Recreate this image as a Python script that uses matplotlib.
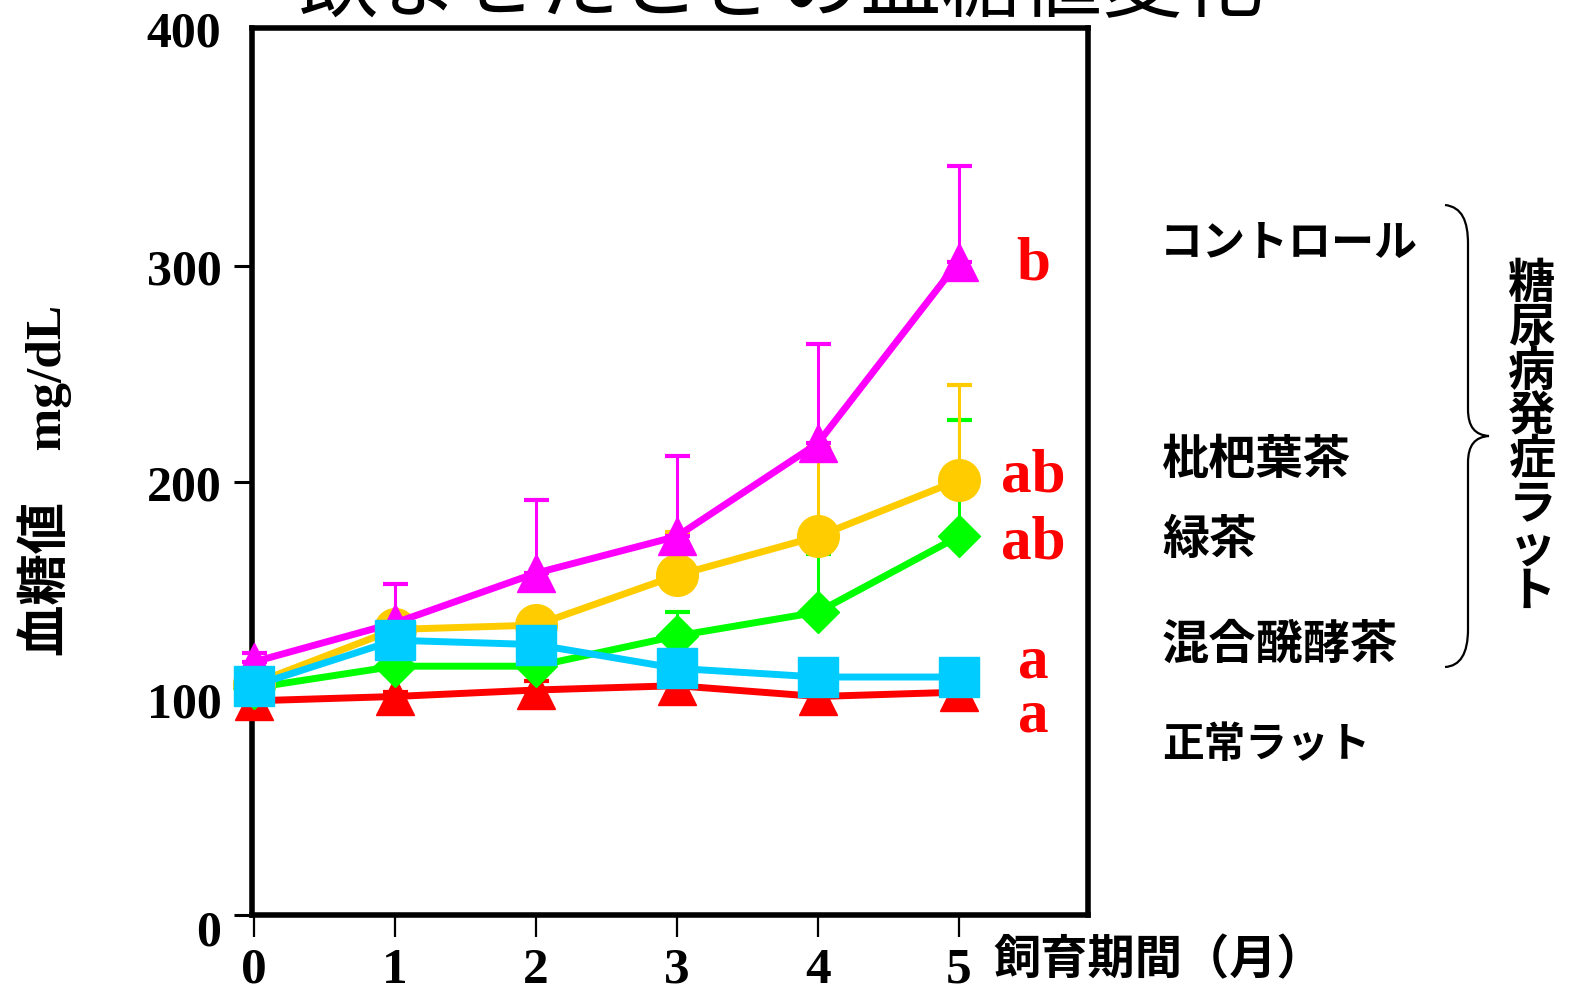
import matplotlib
matplotlib.use("Agg")
import matplotlib.pyplot as plt
from matplotlib.path import Path
from matplotlib.patches import PathPatch
from matplotlib.transforms import ScaledTranslation
import numpy as np

# ---- data ---------------------------------------------------------------
months = [0, 1, 2, 3, 4, 5]
month_labels = ["0", "1", "2", "3", "4", "5"]

control = [117, 135, 158, 175, 218, 302]
control_err = [4, 18, 34, 37, 46, 44]
loquat = [107, 132, 134, 157, 175, 201]
loquat_err = [3, 3, 3, 20, 41, 44]
green_tea = [105, 115, 115, 129, 140, 175]
green_tea_err = [2, 3, 3, 11, 27, 54]
fermented = [106, 127, 125, 114, 110, 110]
fermented_err = [3, 4, 4, 3, 3, 3]
normal = [99, 101, 104, 106, 101, 103]
normal_err = [2, 2, 4, 2, 2, 2]

group_names = ["コントロール", "枇杷葉茶", "緑茶", "混合醗酵茶", "正常ラット"]
sig_letters = ["b", "ab", "ab", "a", "a"]
y_ticks = [0, 100, 200, 300, 400]

# ---- figure -------------------------------------------------------------
W, H, DPI = 1573, 995, 100
plt.rcParams['font.family'] = ['Liberation Serif', 'Noto Sans CJK JP']
plt.rcParams['font.weight'] = 'bold'

fig = plt.figure(figsize=(W / DPI, H / DPI), dpi=DPI)
fig.patch.set_facecolor('white')


def fx(x):
    return x / W


def fy(y):
    return 1 - y / H


ax = fig.add_axes([fx(252), fy(916), (1088 - 252) / W, (916 - 29) / H])
ax.set_xlim(-0.014, 5.918)
ax.set_ylim(0, 410)

series = [
    (normal, normal_err, '#ff0000', '^', 28, 3),
    (green_tea, green_tea_err, '#00ff00', 'D', 21, 4),
    (loquat, loquat_err, '#ffcc00', 'o', 30, 5),
    (control, control_err, '#ff00ff', '^', 28, 6),
    (fermented, fermented_err, '#00ccff', 's', 29, 7),
]

for vals, err, col, mk, ms, z in series:
    eb = ax.errorbar(months, vals, yerr=[np.zeros(len(err)), err], fmt='none',
                     ecolor=col, elinewidth=2.2, capsize=9, capthick=3,
                     zorder=z - 0.5)
    for art in eb.lines[1] + eb.lines[2]:
        art.set_clip_on(False)
    ax.plot(months, vals, color=col, lw=5, marker=mk, ms=ms, mfc=col,
            mec=col, zorder=z, clip_on=False)

# significance letters beside the last point of each series
letter_vals = [control[-1], loquat[-1], green_tea[-1], fermented[-1], normal[-1]]
letter_shift = [-1, 2, -3, 7, -11]
for lt, v, dv in zip(sig_letters, letter_vals, letter_shift):
    ax.text(5.53, v + dv, lt, color='#ff0000', fontsize=44, fontweight='bold',
            family='Liberation Serif', ha='center', va='center', clip_on=False)

# axes styling
for sp in ax.spines.values():
    sp.set_linewidth(4)
    sp.set_color('black')

ax.set_xticks(months)
ax.set_xticklabels(month_labels)
ax.set_yticks([0, 100, 200, 300, 410])
ax.set_yticklabels([str(t) for t in y_ticks])
ax.yaxis.get_major_ticks()[-1].tick1line.set_visible(False)
ax.tick_params(axis='y', direction='out', length=13, width=2.2, pad=9,
               labelsize=36)
ax.tick_params(axis='x', direction='out', length=16, width=1.6, pad=7,
               labelsize=37)
for lbl in ax.get_xticklabels() + ax.get_yticklabels():
    lbl.set_fontweight('bold')
    lbl.set_family('Liberation Serif')
# the zero label of the value axis sits a little below its tick
zero_lbl = ax.get_yticklabels()[0]
zero_lbl.set_transform(zero_lbl.get_transform()
                       + ScaledTranslation(0, -12 / DPI, fig.dpi_scale_trans))

# axis titles
fig.text(fx(45), fy(480), "血糖値　mg/dL", rotation=90, ha='center',
         va='center', fontsize=37, fontweight='bold')
fig.text(fx(993), fy(960), "飼育期間（月）", ha='left', va='center',
         fontsize=34, fontweight='bold', family='Noto Sans CJK JP')

# title
fig.text(fx(781), fy(10), "飲ませたときの血糖値変化", ha='center',
         va='baseline', fontsize=58, fontweight='normal',
         family='Noto Sans CJK JP')

# group names on the right
name_pos = [(1160, 243, 31), (1162, 460, 34), (1162, 540, 34),
            (1162, 645, 34), (1162, 745, 30)]
for name, (x, y, fs) in zip(group_names, name_pos):
    fig.text(fx(x), fy(y), name, ha='left', va='center', fontsize=fs,
             fontweight='bold', family='Noto Sans CJK JP')

# brace grouping the diabetic rats
pts = [
    (1445, 206),
    (1462, 208), (1468, 222), (1468, 245),
    (1468, 410),
    (1468, 428), (1475, 436), (1489, 437),
    (1475, 438), (1468, 446), (1468, 464),
    (1468, 630),
    (1468, 655), (1460, 667), (1445, 668),
]
codes = [Path.MOVETO,
         Path.CURVE4, Path.CURVE4, Path.CURVE4,
         Path.LINETO,
         Path.CURVE4, Path.CURVE4, Path.CURVE4,
         Path.CURVE4, Path.CURVE4, Path.CURVE4,
         Path.LINETO,
         Path.CURVE4, Path.CURVE4, Path.CURVE4]
brace = Path([(fx(x), fy(y)) for x, y in pts], codes)
fig.add_artist(PathPatch(brace, transform=fig.transFigure, fill=False,
                         lw=1.6, edgecolor='black'))

# vertical caption for the brace
caption = "糖尿病発症ラット"
for i, ch in enumerate(caption):
    fig.text(fx(1532), fy(284 + 44 * i), ch, ha='center', va='center',
             fontsize=34, fontweight='bold', family='Noto Sans CJK JP')

fig.savefig("out.png", dpi=DPI, facecolor='white')
